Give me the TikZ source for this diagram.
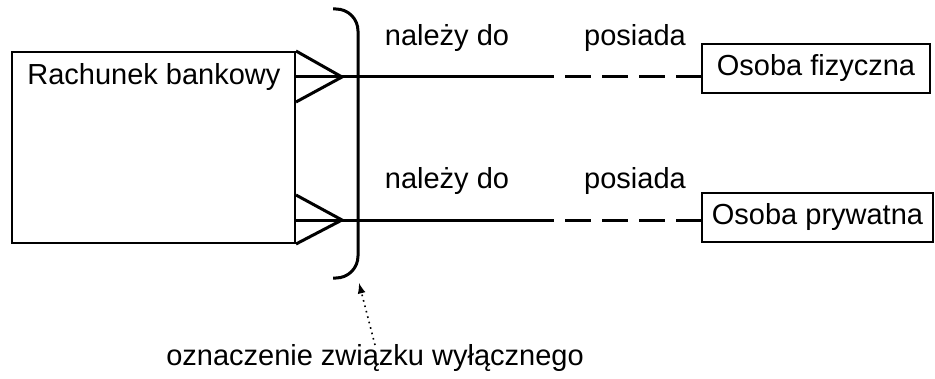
\documentclass[tikz,border=0pt]{standalone}
\usepackage{fontspec}
\setmainfont{Liberation Sans}
\usetikzlibrary{arrows}
\tikzset{
	encja/.style={draw, line width=1pt, inner sep=0pt},
	gruba/.style={line width=1.5pt},
	przerywana/.style={line width=1.5pt, dash pattern=on 13pt off 5.5pt}
}

\begin{document}
\begin{tikzpicture}[x=0.5pt, y=-0.5pt, every node/.style={font=\fontsize{14.5}{17}\selectfont}]
			\useasboundingbox (0,0) rectangle (935,379);
			\node[encja, minimum width=141.5pt, minimum height=95.5pt] (rachunek) at (153.5,147.5) {};
			\node[anchor=base west, inner sep=0pt] (rachunekTxt) at (27,85) {Rachunek bankowy};
			\node[encja, minimum width=114pt, minimum height=24.5pt] (fizyczna) at (816,68.5) {Osoba fizyczna};
			\node[encja, minimum width=115.5pt, minimum height=24.5pt] (prywatna) at (817.5,217.5) {Osoba prywatna};
			\node[anchor=base] (nalezyA) at (447,46) {należy do};
			\node[anchor=base] (posiadaA) at (635,46) {posiada};
			\node[anchor=base] (nalezyB) at (447,189) {należy do};
			\node[anchor=base] (posiadaB) at (635,189) {posiada};
			\node[anchor=base] (opis) at (375,365) {oznaczenie związku wyłącznego};
			% wierzcholki stop i srodki polaczen
			\coordinate (stopaA) at (342,77);
			\coordinate (stopaB) at (342,220);
			\coordinate (srodekA) at (528,77);
			\coordinate (srodekB) at (528,220);
			\coordinate (ogon) at (375,345);
			\coordinate (grot) at (359,283);
			\draw[gruba] (rachunek.north east) -- (stopaA) -- (rachunek.east |- 0,102);
			\draw[gruba] (rachunek.east |- 0,195) -- (stopaB) -- (rachunek.south east);
			\draw[gruba] (rachunek.east |- stopaA) -- (srodekA);
			\draw[gruba] (rachunek.east |- stopaB) -- (srodekB);
			\draw[przerywana] (srodekA) -- (fizyczna.west |- srodekA);
			\draw[przerywana] (srodekB) -- (prywatna.west |- srodekB);
			% nawias
			\draw[gruba, rounded corners=11pt] (333,9) -- (358,9) -- (358,278) -- (333,278);
			\draw[dotted, thick, -latex] (ogon) -- (grot);
		\end{tikzpicture}
\end{document}
